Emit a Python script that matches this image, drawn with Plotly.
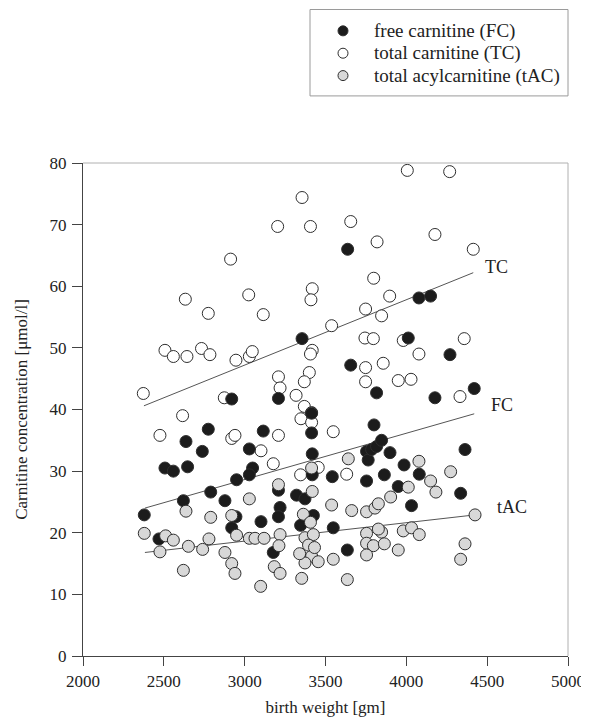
import plotly.graph_objects as go

# ---------------- data ----------------
fc_x = [3637, 4078, 4150, 3355, 4012, 4270, 3656, 3209, 2920, 3816, 4177, 4420,
        3800, 3414, 3414, 2775, 2637, 3115, 2738, 3029, 3418, 3754, 3764, 3785,
        3816, 3847, 3899, 4363, 2507, 2559, 2647, 3049, 3029, 2950, 2790, 2878,
        2621, 2946, 2920, 3101, 3209, 3219, 3209, 3321, 3373, 3425, 3346, 2470,
        3177, 3986, 4080, 3418, 3542, 3754, 3864, 3950, 4336, 4032, 3548, 3635,
        2379]
fc_y = [66.0, 58.1, 58.4, 51.5, 51.6, 48.9, 47.2, 41.8, 41.7, 42.7, 41.9, 43.4,
        37.5, 36.2, 39.4, 36.8, 34.8, 36.5, 33.2, 33.6, 32.8, 33.2, 31.8, 33.5,
        34.0, 35.0, 33.0, 33.5, 30.5, 30.0, 30.7, 30.5, 29.4, 28.6, 26.6, 25.2,
        25.2, 22.6, 20.8, 21.8, 26.9, 24.1, 22.6, 26.1, 25.5, 22.8, 21.2, 19.0,
        16.8, 31.0, 29.5, 29.4, 29.1, 28.4, 29.4, 27.5, 26.4, 24.4, 20.8, 17.2,
        22.9]

tc_x = [4006, 4268, 3355, 3204, 3407, 3656, 2913, 3819, 4177, 4414, 3798, 2633,
        3025, 3418, 3410, 3897, 2775, 3115, 3748, 3847, 3538, 2507, 2559, 2643,
        2733, 2785, 2946, 3029, 3047, 3418, 3407, 3744, 3796, 3981, 4358, 4078,
        3209, 3219, 3400, 3369, 3748, 3857, 3748, 3950, 4029, 4332, 2373, 2874,
        3318, 3369, 3348, 3414, 3414, 2616, 2476, 2920, 2940, 3209, 3101, 3548,
        3177, 3346, 3455, 3631]
tc_y = [78.8, 78.6, 74.4, 69.7, 69.7, 70.5, 64.4, 67.2, 68.4, 66.0, 61.3, 57.9,
        58.6, 59.6, 57.8, 58.4, 55.6, 55.4, 56.3, 55.2, 53.6, 49.6, 48.6, 48.6,
        49.9, 48.9, 48.0, 48.6, 49.4, 49.6, 49.0, 51.6, 51.5, 51.2, 51.5, 49.0,
        45.3, 43.5, 46.0, 44.5, 46.8, 47.5, 44.5, 44.7, 44.9, 42.1, 42.6, 41.9,
        42.3, 40.5, 38.5, 39.5, 37.9, 39.0, 35.8, 35.3, 35.8, 35.8, 33.3, 36.4,
        31.2, 29.4, 30.6, 29.5]

tac_x = [2379, 2511, 2559, 2476, 2652, 2740, 2779, 2878, 2950, 3029, 3064, 3120,
         3219, 3212, 2920, 2940, 2621, 3183, 3219, 3099, 3353, 2637, 2790, 2920,
         3029, 3209, 3414, 3418, 3363, 3407, 3373, 3425, 3641, 4078, 4274, 4150,
         4183, 4012, 3903, 3538, 3662, 3754, 3806, 3827, 4425, 3754, 3847, 3827,
         3754, 3796, 3864, 3754, 3950, 3981, 4032, 4080, 3548, 3635, 4363, 4336,
         3414, 3455, 3373, 3395, 3432, 3340]
tac_y = [19.9, 19.5, 18.8, 16.9, 17.8, 17.3, 19.0, 16.8, 19.6, 19.1, 19.1, 19.1,
         19.7, 17.9, 15.0, 13.4, 13.9, 14.5, 13.4, 11.3, 12.6, 23.5, 22.5, 22.8,
         25.5, 27.8, 30.5, 26.7, 23.0, 21.7, 19.2, 19.7, 32.0, 31.6, 29.9, 28.4,
         26.6, 27.4, 25.8, 24.5, 23.6, 23.4, 24.0, 24.7, 22.9, 19.9, 20.1, 20.6,
         18.3, 17.9, 18.2, 16.4, 17.2, 20.3, 20.8, 19.7, 15.7, 12.4, 18.2, 15.7,
         16.2, 15.3, 15.1, 18.0, 17.6, 16.6]

# regression lines (end points)
tc_fit_x = [2377, 4414]
tc_fit_y = [40.6, 62.2]
fc_fit_x = [2383, 4420]
fc_fit_y = [24.0, 39.3]
tac_fit_x = [2383, 4425]
tac_fit_y = [16.8, 22.9]

x_ticks = [2000, 2500, 3000, 3500, 4000, 4500, 5000]
y_ticks = [0, 10, 20, 30, 40, 50, 60, 70, 80]

legend_labels = ["free carnitine (FC)", "total carnitine (TC)", "total acylcarnitine (tAC)"]

FONT = "Liberation Serif, Times New Roman, serif"
EDGE = "#2e2e2e"
FC_FILL, TC_FILL, TAC_FILL = "#1c1c1c", "white", "#d8d8d8"

fig = go.Figure()

# fit lines
for fx, fy in [(tc_fit_x, tc_fit_y), (fc_fit_x, fc_fit_y), (tac_fit_x, tac_fit_y)]:
    fig.add_trace(go.Scatter(x=fx, y=fy, mode="lines", showlegend=False,
                             line=dict(color="#555555", width=1), hoverinfo="skip"))

fig.add_trace(go.Scatter(x=tc_x, y=tc_y, mode="markers", name=legend_labels[1],
                         showlegend=False,
                         marker=dict(size=12, color=TC_FILL, line=dict(color=EDGE, width=1))))
fig.add_trace(go.Scatter(x=fc_x, y=fc_y, mode="markers", name=legend_labels[0],
                         showlegend=False,
                         marker=dict(size=12, color=FC_FILL, line=dict(color=EDGE, width=1))))
fig.add_trace(go.Scatter(x=tac_x, y=tac_y, mode="markers", name=legend_labels[2],
                         showlegend=False,
                         marker=dict(size=12, color=TAC_FILL, line=dict(color=EDGE, width=1))))

# line labels
for txt, lx, ly in [("TC", 4558, 63.2), ("FC", 4589, 40.8), ("tAC", 4656, 24.1)]:
    fig.add_annotation(x=lx, y=ly, text=txt, showarrow=False,
                       font=dict(family=FONT, size=18, color="#222"))

# light top/right frame
fig.add_shape(type="line", xref="paper", yref="paper", x0=0, x1=1, y0=1, y1=1,
              line=dict(color="#b0b0b0", width=1))
fig.add_shape(type="line", xref="paper", yref="paper", x0=1, x1=1, y0=0, y1=1,
              line=dict(color="#b0b0b0", width=1))

# the page body adds an 8 px margin; plot area is kept at x 83..568, y 163..648
PLOT_W = 485.0
PLOT_H = 485.0
def py(p):  # page pixel row -> paper y
    return (648 - p) / PLOT_H
def px(p):  # page pixel column -> paper x
    return (p - 83) / PLOT_W

# legend box (in paper coordinates, above the plot)
fig.add_shape(type="rect", xref="paper", yref="paper",
              x0=px(310), x1=px(568), y0=py(97), y1=py(12),
              line=dict(color="#9a9a9a", width=1), fillcolor="white")
for lab, fill, row in zip(legend_labels, [FC_FILL, TC_FILL, TAC_FILL], [33, 55, 77]):
    fig.add_shape(type="circle", xref="paper", yref="paper",
                  xsizemode="pixel", ysizemode="pixel",
                  xanchor=px(343), yanchor=py(row),
                  x0=-5, x1=5, y0=-5, y1=5,
                  line=dict(color=EDGE, width=1), fillcolor=fill)
    fig.add_annotation(xref="paper", yref="paper", x=px(372), y=py(row),
                       xanchor="left", yanchor="middle", text=lab, showarrow=False,
                       font=dict(family=FONT, size=19, color="#222"))

fig.update_layout(
    width=581, height=714,
    margin=dict(l=75, r=21, t=155, b=66, autoexpand=False),
    paper_bgcolor="white", plot_bgcolor="white",
    font=dict(family=FONT, size=17, color="#222"),
    showlegend=False,
)
fig.update_xaxes(range=[2000, 5000], tickvals=x_ticks, ticks="outside", ticklen=9,
                 tickcolor="#444", linecolor="#444", linewidth=1, showline=True,
                 showgrid=False, zeroline=False, ticklabelstandoff=1, automargin=False,
                 title=dict(text="birth weight [gm]", standoff=10,
                            font=dict(family=FONT, size=17)))
fig.update_yaxes(range=[0, 80], tickvals=y_ticks, ticks="outside", ticklen=10,
                 tickcolor="#444", linecolor="#444", linewidth=1, showline=True,
                 showgrid=False, zeroline=False, ticklabelstandoff=2, automargin=False,
                 title=dict(text="Carnitine concentration [μmol/l]", standoff=17,
                            font=dict(family=FONT, size=17)))

fig.write_html("out.html")
